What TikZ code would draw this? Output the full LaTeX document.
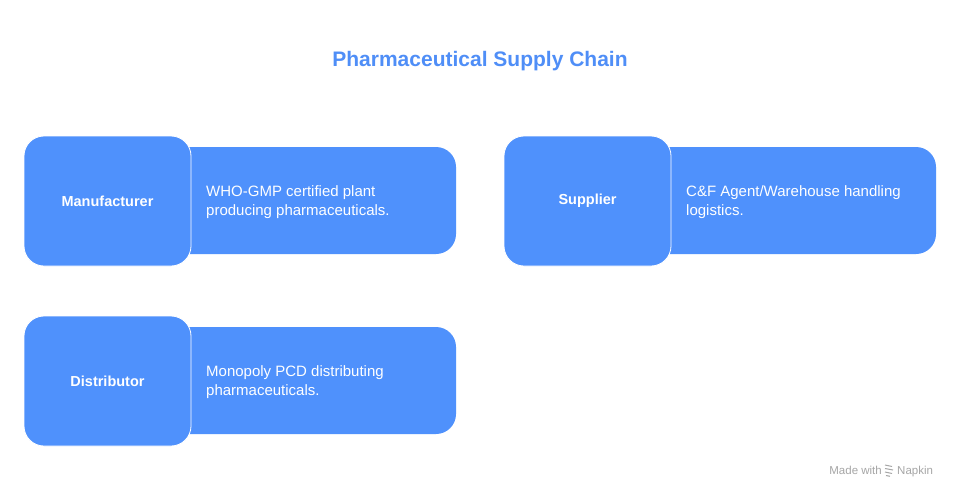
\documentclass[tikz,border=0pt]{standalone}
\usepackage{fontspec}
\setmainfont{Liberation Sans}
\definecolor{boxblue}{HTML}{4F91FC}
\definecolor{titleblue}{HTML}{4F8EF7}
\definecolor{wmgray}{HTML}{A6A6A6}
\begin{document}
\begin{tikzpicture}[x=1pt,y=-1pt,
  keybox/.style={fill=boxblue,draw=white,line width=0.8pt,rounded corners=20pt},
  descbox/.style={fill=boxblue,draw=none,rounded corners=20pt},
  keytext/.style={text=white,font=\fontsize{14.5}{17}\selectfont\bfseries,anchor=center},
  desctext/.style={text=white,font=\fontsize{15}{19}\selectfont,anchor=west,align=left,inner sep=0pt},
  wmtext/.style={text=wmgray,font=\fontsize{11.5}{13}\selectfont,inner sep=0pt}]
\useasboundingbox[fill=white] (0,0) rectangle (960,498);
\node[text=titleblue,font=\fontsize{21}{25}\selectfont\bfseries] (title) at (480,61) {Pharmaceutical Supply Chain};
% Manufacturer
\path[descbox] (170,147) rectangle (456,254);
\path[keybox] (24,136) rectangle (191,266);
\node[keytext] (man) at (107.5,201) {Manufacturer};
\node[desctext] (mand) at (206,202) {WHO-GMP certified plant\\producing pharmaceuticals.};
% Supplier
\path[descbox] (650,147) rectangle (936,254);
\path[keybox] (504,136) rectangle (671,266);
\node[keytext] (sup) at (587.5,201) {Supplier};
\node[desctext] (supd) at (686,202) {C\&F Agent/Warehouse handling\\logistics.};
% Distributor
\path[descbox] (170,327) rectangle (456,434);
\path[keybox] (24,316) rectangle (191,446);
\node[keytext] (dis) at (107.5,381) {Distributor};
\node[desctext] (disd) at (206,382) {Monopoly PCD distributing\\pharmaceuticals.};
% watermark
\node[wmtext,anchor=base east] (made) at (882,474) {Made with};
\node[wmtext,anchor=base west] (napkin) at (897,474) {Napkin};
\draw[wmgray,line width=1pt] (885,465) -- (892,466.5) (885,468.5) -- (893,470) (885,472) -- (892,473.5) (886,475.5) -- (890,476.3);
\end{tikzpicture}
\end{document}
